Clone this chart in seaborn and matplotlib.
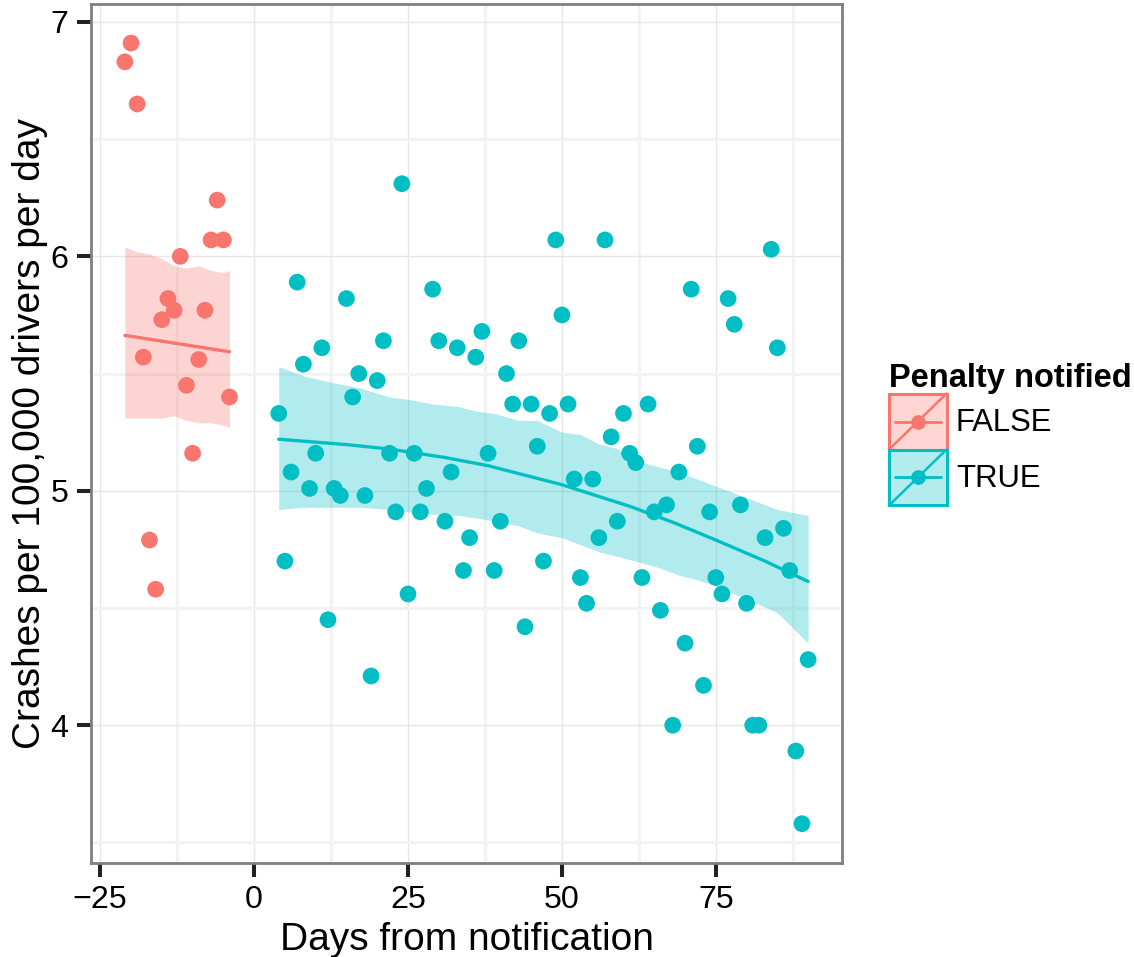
import numpy as np
import pandas as pd
import matplotlib
matplotlib.use("Agg")
import matplotlib.pyplot as plt
import matplotlib.patches as mpatches
from matplotlib.lines import Line2D
from matplotlib.legend_handler import HandlerBase
from matplotlib.ticker import MultipleLocator
import seaborn as sns

# ---- daily crash rates -------------------------------------------------
days_before = [-21, -20, -19, -18, -17, -16, -15, -14, -13, -12, -11, -10,
               -9, -8, -7, -6, -5, -4]
crashes_before = [6.83, 6.91, 6.65, 5.57, 4.79, 4.58, 5.73, 5.82, 5.77, 6.00,
                  5.45, 5.16, 5.56, 5.77, 6.07, 6.24, 6.07, 5.40]

days_after = [4, 5, 6, 7, 8, 9, 10, 11, 12, 13, 14, 15, 16, 17, 18, 19, 20,
              21, 22, 23, 24, 25, 26, 27, 28, 29, 30, 31, 32, 33, 34, 35, 36,
              37, 38, 39, 40, 41, 42, 43, 44, 45, 46, 47, 48, 49, 50, 51, 52,
              53, 54, 55, 56, 57, 58, 59, 60, 61, 62, 63, 64, 65, 66, 67, 68,
              69, 70, 71, 72, 73, 74, 75, 76, 77, 78, 79, 80, 81, 82, 83, 84,
              85, 86, 87, 88, 89, 90]
crashes_after = [5.33, 4.70, 5.08, 5.89, 5.54, 5.01, 5.16, 5.61, 4.45, 5.01,
                 4.98, 5.82, 5.40, 5.50, 4.98, 4.21, 5.47, 5.64, 5.16, 4.91,
                 6.31, 4.56, 5.16, 4.91, 5.01, 5.86, 5.64, 4.87, 5.08, 5.61,
                 4.66, 4.80, 5.57, 5.68, 5.16, 4.66, 4.87, 5.50, 5.37, 5.64,
                 4.42, 5.37, 5.19, 4.70, 5.33, 6.07, 5.75, 5.37, 5.05, 4.63,
                 4.52, 5.05, 4.80, 6.07, 5.23, 4.87, 5.33, 5.16, 5.12, 4.63,
                 5.37, 4.91, 4.49, 4.94, 4.00, 5.08, 4.35, 5.86, 5.19, 4.17,
                 4.91, 4.63, 4.56, 5.82, 5.71, 4.94, 4.52, 4.00, 4.00, 4.80,
                 6.03, 5.61, 4.84, 4.66, 3.89, 3.58, 4.28]

# ---- model fits and confidence bands -----------------------------------
fit_before_days = [-21, -4]
fit_before = [5.663, 5.593]
band_before_days = [-21, -19, -17, -15, -13, -11, -9, -7, -5, -4]
band_before_hi = [6.04, 6.02, 6.01, 5.99, 5.96, 5.95, 5.96, 5.94, 5.93, 5.94]
band_before_lo = [5.31, 5.31, 5.31, 5.31, 5.32, 5.30, 5.29, 5.29, 5.28, 5.27]

fit_after_days = [4, 15, 22, 31, 38, 50, 61, 68, 75, 83, 90]
fit_after = [5.220, 5.197, 5.178, 5.142, 5.107, 5.026, 4.934, 4.866, 4.790,
             4.700, 4.613]
band_after_days = [4, 8, 13, 17, 22, 25, 29, 33, 36, 39, 43, 46, 50, 53, 56,
                   59, 62, 66, 69, 72, 75, 78, 82, 85, 90]
band_after_hi = [5.53, 5.49, 5.46, 5.44, 5.40, 5.39, 5.37, 5.36, 5.34, 5.33,
                 5.30, 5.30, 5.25, 5.24, 5.20, 5.18, 5.13, 5.10, 5.08, 5.05,
                 5.02, 4.99, 4.95, 4.92, 4.895]
band_after_lo = [4.92, 4.93, 4.93, 4.93, 4.92, 4.91, 4.90, 4.895, 4.885,
                 4.87, 4.85, 4.82, 4.80, 4.77, 4.74, 4.72, 4.70, 4.67, 4.64,
                 4.62, 4.595, 4.56, 4.515, 4.48, 4.35]

groups = ["FALSE", "TRUE"]
palette = {"FALSE": "#F8766D", "TRUE": "#00BFC4"}
fills = {"FALSE": "#FDD6D3", "TRUE": "#B2ECED"}

df = pd.DataFrame({
    "days": days_before + days_after,
    "crashes": crashes_before + crashes_after,
    "notified": ["FALSE"] * len(days_before) + ["TRUE"] * len(days_after),
})

# ---- styling -----------------------------------------------------------
sns.set_theme(style="white")
plt.rcParams["font.family"] = ["Liberation Sans", "DejaVu Sans"]
plt.rcParams["text.color"] = "black"

fig = plt.figure(figsize=(11.34, 9.57), dpi=100)
ax = fig.add_axes([90.7 / 1134, 1 - 862.7 / 957,
                   (842.3 - 90.7) / 1134, (862.7 - 4) / 957])

# bands and fitted lines
ax.fill_between(band_before_days, band_before_lo, band_before_hi,
                color=palette["FALSE"], alpha=0.3, lw=0, zorder=2)
ax.fill_between(band_after_days, band_after_lo, band_after_hi,
                color=palette["TRUE"], alpha=0.3, lw=0, zorder=2)
sns.lineplot(x=fit_before_days, y=fit_before, color=palette["FALSE"],
             lw=2.4, ax=ax, zorder=3)
sns.lineplot(x=fit_after_days, y=fit_after, color=palette["TRUE"],
             lw=2.4, ax=ax, zorder=3)

sns.scatterplot(data=df, x="days", y="crashes", hue="notified",
                hue_order=groups, palette=palette, s=145, linewidth=0,
                legend=False, ax=ax, zorder=4)

# ggplot-like 5% expansion of the data range
xs = df["days"]
ys = df["crashes"]
xpad = 0.05 * (xs.max() - xs.min())
ypad = 0.05 * (ys.max() - ys.min())
ax.set_xlim(xs.min() - xpad, xs.max() + xpad)
ax.set_ylim(ys.min() - ypad, ys.max() + ypad)

ax.xaxis.set_major_locator(MultipleLocator(25))
ax.xaxis.set_minor_locator(MultipleLocator(12.5))
ax.yaxis.set_major_locator(MultipleLocator(1))
ax.yaxis.set_minor_locator(MultipleLocator(0.5))

ax.grid(which="major", color="#E6E6E6", lw=1.0, zorder=0)
ax.grid(which="minor", color="#F3F3F3", lw=2.2, zorder=0)
ax.set_axisbelow(True)

for side in ax.spines.values():
    side.set_color("#7F7F7F")
    side.set_linewidth(2.0)

ax.tick_params(which="major", length=10, width=2.9, color="#222222",
               labelsize=23.2, labelcolor="black", pad=6, bottom=True, left=True)
ax.tick_params(which="minor", length=0)

ax.set_xlabel("Days from notification", fontsize=28, color="black", labelpad=5)
ax.set_ylabel("Crashes per 100,000 drivers per day", fontsize=28,
              color="black", labelpad=2)


# legend key: filled box, diagonal, horizontal line and point
class RibbonKey(HandlerBase):
    def create_artists(self, legend, orig_handle, xdescent, ydescent,
                       width, height, fontsize, trans):
        fc = orig_handle.get_facecolor()
        ec = orig_handle.get_edgecolor()
        x0, y0 = -xdescent, -ydescent
        box = mpatches.Rectangle((x0, y0), width, height, facecolor=fc,
                                 edgecolor=ec, lw=2.2, transform=trans)
        diag = Line2D([x0, x0 + width], [y0, y0 + height], color=ec, lw=1.8,
                      transform=trans)
        ymid = y0 + height / 2
        hline = Line2D([x0 + 0.1 * width, x0 + 0.9 * width], [ymid, ymid],
                       color=ec, lw=2.0, transform=trans)
        dot = Line2D([x0 + width / 2], [ymid], marker="o", markersize=9.5,
                     color=ec, lw=0, transform=trans)
        return [box, diag, hline, dot]


handles = [mpatches.Patch(facecolor=fills[g], edgecolor=palette[g])
           for g in groups]
leg = fig.legend(handles, groups, handler_map={mpatches.Patch: RibbonKey()},
                 title="Penalty notified", loc="center left",
                 bbox_to_anchor=(889 / 1134, 1 - 434 / 957),
                 frameon=False, fontsize=22.4, handlelength=1.85,
                 handleheight=2.39, labelspacing=0.0, handletextpad=0.3,
                 borderpad=0, borderaxespad=0, alignment="left",
                 labelcolor="black")
leg.get_title().set_fontsize(23.5)
leg.get_title().set_fontweight("bold")
leg.get_title().set_color("black")

fig.savefig("out.png", dpi=100)
